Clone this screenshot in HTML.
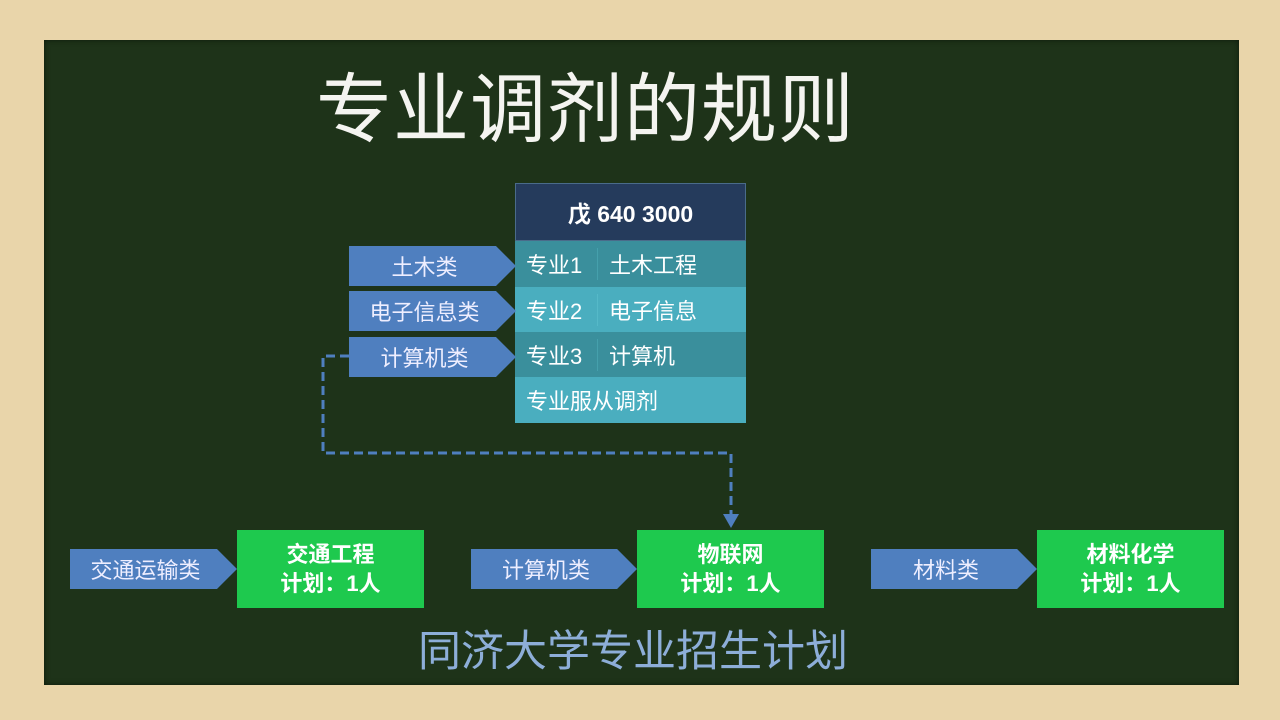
<!DOCTYPE html>
<html><head><meta charset="utf-8"><style>
body{margin:0;width:1280px;height:720px;overflow:hidden;background:#e9d5aa;font-family:"Liberation Sans","Noto Sans CJK SC",sans-serif;position:relative}
.a{position:absolute}
.board{left:44px;top:40px;width:1195px;height:645px;background:#1e3319;box-shadow:inset 0 0 6px #0d1a0b}
.t{color:#fff;display:flex;align-items:center;box-sizing:border-box}
.arr{background:#4f7fbf;clip-path:polygon(0 0,88% 0,100% 50%,88% 100%,0 100%);color:#eef;font-size:22px;justify-content:center;padding-right:16px}
.g{background:#1ec94e;color:#fff;font-weight:bold;font-size:22px;text-align:center;line-height:29px;justify-content:center;flex-direction:column}
</style></head><body>
<div class="a board"></div>
<div class="a t" style="left:316px;top:60px;height:85px;font-size:76px;letter-spacing:1px;color:#f4f4f0">专业调剂的规则</div>

<div class="a t" style="left:515px;top:183px;width:231px;height:58px;background:#253b5c;justify-content:center;font-weight:bold;font-size:23px;border:1px solid #4a6b8a">戊 640 3000</div>
<div class="a t" style="left:515px;top:241px;width:231px;height:46px;background:#3a8f9c;font-size:22px"><span style="width:83px;padding-left:11px;box-sizing:border-box;border-right:1px solid #45a0ac">专业1</span><span style="padding-left:11px">土木工程</span></div>
<div class="a t" style="left:515px;top:287px;width:231px;height:45px;background:#4aaebf;font-size:22px"><span style="width:83px;padding-left:11px;box-sizing:border-box;border-right:1px solid #55b9c8">专业2</span><span style="padding-left:11px">电子信息</span></div>
<div class="a t" style="left:515px;top:332px;width:231px;height:45px;background:#3a8f9c;font-size:22px"><span style="width:83px;padding-left:11px;box-sizing:border-box;border-right:1px solid #45a0ac">专业3</span><span style="padding-left:11px">计算机</span></div>
<div class="a t" style="left:515px;top:377px;width:231px;height:46px;background:#4aaebf;font-size:22px;padding-left:11px">专业服从调剂</div>

<div class="a t arr" style="left:349px;top:246px;width:167px;height:40px">土木类</div>
<div class="a t arr" style="left:349px;top:291px;width:167px;height:40px">电子信息类</div>
<div class="a t arr" style="left:349px;top:337px;width:167px;height:40px">计算机类</div>

<svg class="a" style="left:0;top:0" width="1280" height="720">
<path d="M349 356 H323 V453 H731 V516" fill="none" stroke="#4f7fbf" stroke-width="3" stroke-dasharray="9 5"/>
<path d="M723 514 L731 528 L739 514 Z" fill="#4f7fbf"/>
</svg>

<div class="a t arr" style="left:70px;top:549px;width:167px;height:40px">交通运输类</div>
<div class="a t g" style="left:237px;top:530px;width:187px;height:78px"><div>交通工程</div><div>计划：1人</div></div>
<div class="a t arr" style="left:471px;top:549px;width:166px;height:40px">计算机类</div>
<div class="a t g" style="left:637px;top:530px;width:187px;height:78px"><div>物联网</div><div>计划：1人</div></div>
<div class="a t arr" style="left:871px;top:549px;width:166px;height:40px">材料类</div>
<div class="a t g" style="left:1037px;top:530px;width:187px;height:78px"><div>材料化学</div><div>计划：1人</div></div>

<div class="a t" style="left:418px;top:622px;height:52px;font-size:43px;color:#8daed8">同济大学专业招生计划</div>
</body></html>
